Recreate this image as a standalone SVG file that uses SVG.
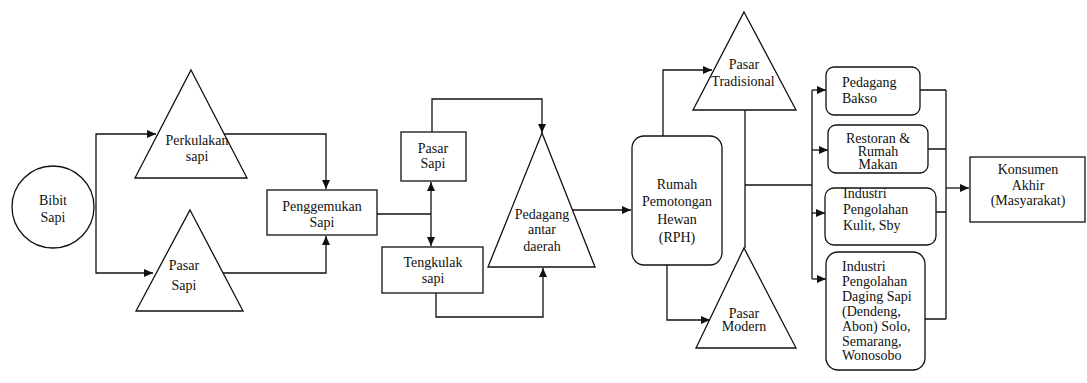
<svg xmlns="http://www.w3.org/2000/svg" width="1087" height="383" viewBox="0 0 1087 383">
<style>
.s{fill:#fff;stroke:#111;stroke-width:1.3}
.c{fill:none;stroke:#111;stroke-width:1.3}
.m{text-anchor:middle}
</style>
<defs>
<marker id="a" markerUnits="userSpaceOnUse" markerWidth="10" markerHeight="10" refX="9" refY="4" orient="auto">
<path d="M0,0 L9,4 L0,8 z" fill="#111"/>
</marker>
</defs>
<rect width="1087" height="383" fill="#fff"/>
<g id="connectors">
<path class="c" d="M96,207 V134 H156" marker-end="url(#a)"/>
<path class="c" d="M96,207 V273 H153" marker-end="url(#a)"/>
<path class="c" d="M224,134 H326 V189" marker-end="url(#a)"/>
<path class="c" d="M223,273 H326 V236" marker-end="url(#a)"/>
<path class="c" d="M377,214 H431"/>
<path class="c" d="M431,214 V182" marker-end="url(#a)"/>
<path class="c" d="M431,214 V246" marker-end="url(#a)"/>
<path class="c" d="M432,132 V99 H542 V133" marker-end="url(#a)"/>
<path class="c" d="M436,293 V317 H543 V268" marker-end="url(#a)"/>
<path class="c" d="M572,210 H631" marker-end="url(#a)"/>
<path class="c" d="M663,136 V70 H712" marker-end="url(#a)"/>
<path class="c" d="M667,265 V320 H710" marker-end="url(#a)"/>
<path class="c" d="M745,110 V248 M745,185 H812 M812,90 V279"/>
<path class="c" d="M812,90 H826" marker-end="url(#a)"/>
<path class="c" d="M812,150 H828" marker-end="url(#a)"/>
<path class="c" d="M812,213 H825" marker-end="url(#a)"/>
<path class="c" d="M812,279 H826" marker-end="url(#a)"/>
<path class="c" d="M920,90 H946 M928,149 H946 M935,212 H946 M925,319 H946 M946,90 V319"/>
<path class="c" d="M946,188 H969" marker-end="url(#a)"/>
</g>
<g font-family="Liberation Serif, Times New Roman, serif" font-size="14" fill="#111">
<g id="bibit">
<circle class="s" cx="53" cy="207" r="41"/>
<text class="m" x="53" y="205">Bibit</text>
<text class="m" x="53" y="222">Sapi</text>
</g>
<g id="perkulakan">
<path class="s" d="M191,70 L247,178 L135,178 Z"/>
<text class="m" x="197" y="145">Perkulakan</text>
<text class="m" x="197" y="161">sapi</text>
</g>
<g id="pasar-sapi-tri">
<path class="s" d="M190,210 L243,311 L136,311 Z"/>
<text class="m" x="184" y="270">Pasar</text>
<text class="m" x="184" y="290">Sapi</text>
</g>
<g id="penggemukan">
<rect class="s" x="267" y="190" width="110" height="45"/>
<text class="m" x="322" y="211">Penggemukan</text>
<text class="m" x="322" y="227">Sapi</text>
</g>
<g id="pasar-sapi-box">
<rect class="s" x="401" y="132" width="65" height="49"/>
<text class="m" x="433" y="153">Pasar</text>
<text class="m" x="433" y="168">Sapi</text>
</g>
<g id="tengkulak">
<rect class="s" x="382" y="247" width="101" height="46"/>
<text class="m" x="433" y="267">Tengkulak</text>
<text class="m" x="433" y="283">sapi</text>
</g>
<g id="pedagang-antar">
<path class="s" d="M542,133 L595,267 L488,267 Z"/>
<text class="m" x="542" y="219">Pedagang</text>
<text class="m" x="542" y="234">antar</text>
<text class="m" x="542" y="251">daerah</text>
</g>
<g id="rph">
<rect class="s" x="632" y="136" width="90" height="129" rx="12"/>
<text class="m" x="677" y="189">Rumah</text>
<text class="m" x="677" y="206">Pemotongan</text>
<text class="m" x="677" y="224">Hewan</text>
<text class="m" x="677" y="242">(RPH)</text>
</g>
<g id="pasar-tradisional">
<path class="s" d="M744,12 L796,110 L693,110 Z"/>
<text class="m" x="744" y="69">Pasar</text>
<text class="m" x="743" y="86">Tradisional</text>
</g>
<g id="pasar-modern">
<path class="s" d="M744,248 L796,348 L696,348 Z"/>
<text class="m" x="744" y="318">Pasar</text>
<text class="m" x="744" y="331">Modern</text>
</g>
<g id="pedagang-bakso">
<rect class="s" x="826" y="67" width="94" height="48" rx="8"/>
<text x="842" y="87">Pedagang</text>
<text x="842" y="103">Bakso</text>
</g>
<g id="restoran">
<rect class="s" x="828" y="125" width="100" height="48" rx="8"/>
<text class="m" x="878" y="143">Restoran &amp;</text>
<text class="m" x="878" y="156">Rumah</text>
<text class="m" x="878" y="169">Makan</text>
</g>
<g id="industri-kulit">
<rect class="s" x="825" y="188" width="111" height="57" rx="9"/>
<text x="843" y="198">Industri</text>
<text x="843" y="214">Pengolahan</text>
<text x="843" y="230">Kulit,  Sby</text>
</g>
<g id="industri-daging">
<rect class="s" x="826" y="252" width="99" height="118" rx="12"/>
<text x="842" y="271">Industri</text>
<text x="842" y="286">Pengolahan</text>
<text x="842" y="301">Daging Sapi</text>
<text x="842" y="316">(Dendeng,</text>
<text x="842" y="331">Abon) Solo,</text>
<text x="842" y="346">Semarang,</text>
<text x="842" y="360">Wonosobo</text>
</g>
<g id="konsumen">
<rect class="s" x="970" y="157" width="115" height="65"/>
<text class="m" x="1028" y="174">Konsumen</text>
<text class="m" x="1028" y="190">Akhir</text>
<text class="m" x="1028" y="205">(Masyarakat)</text>
</g>
</g>
</svg>
